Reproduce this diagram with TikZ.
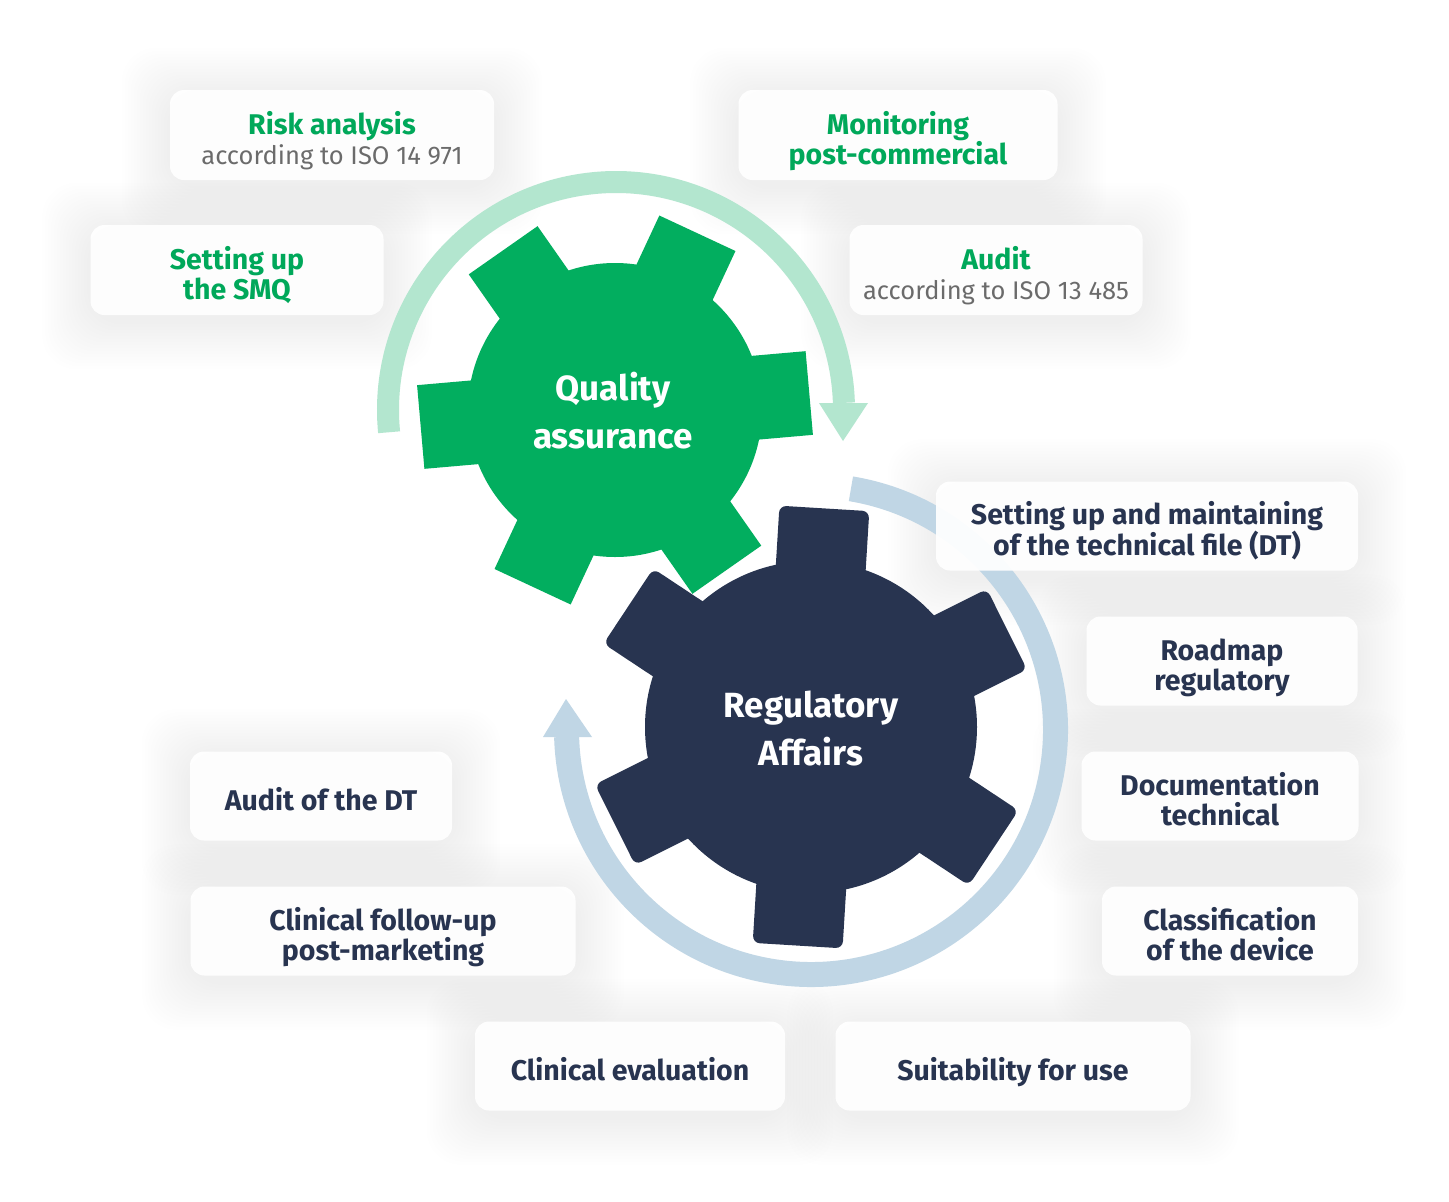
\documentclass[tikz,border=0pt]{standalone}
\usepackage{fontspec}
\setmainfont{Fira Sans}
\usetikzlibrary{calc}
\pgfdeclarelayer{shade}
\pgfdeclarelayer{mid}
\pgfsetlayers{shade,mid,main}
\definecolor{qgreen}{HTML}{02AE5F}
\definecolor{navy}{HTML}{283450}
\definecolor{mint}{HTML}{B3E6CF}
\definecolor{paleblue}{HTML}{C0D6E5}
\definecolor{txtgreen}{HTML}{00A85A}
\definecolor{txtgray}{HTML}{6B6B6B}
\tikzset{
  card/.style={fill=white, fill opacity=0.93, text opacity=1, rounded corners=14pt,
    inner sep=0pt, align=center, font=\fontsize{28.5}{30}\selectfont\bfseries},
  qacard/.style={card, text=txtgreen},
  racard/.style={card, text=navy},
  gearlabel/.style={text=white, align=center, font=\fontsize{35}{48}\selectfont\bfseries},
  arcline/.style={line width=#1, line cap=butt},
}
\newcommand{\subtxt}[1]{{\mdseries\color{txtgray}\fontsize{25.5}{31}\selectfont #1}}
\newcommand{\hs}{\rule{0pt}{36pt}}
\newcommand{\ds}{\rule[-8pt]{0pt}{0pt}}
\begin{document}
\begin{tikzpicture}[x=1pt, y=-1pt]
\useasboundingbox (0,0) rectangle (1449,1202);

% ---- cards ----
\node[qacard, minimum width=324pt, minimum height=90pt] (risk) at (332,135)
  {\hs Risk analysis\\\subtxt{according to ISO 14 971}\ds};
\node[qacard, minimum width=319pt, minimum height=90pt] (monit) at (898,135)
  {\hs Monitoring\\post-commercial\ds};
\node[qacard, minimum width=293pt, minimum height=90pt] (smq) at (237,270)
  {\hs Setting up\\the SMQ\ds};
\node[qacard, minimum width=293pt, minimum height=90pt] (audit) at (996,270)
  {\hs Audit\\\subtxt{according to ISO 13 485}\ds};
\node[racard, minimum width=422pt, minimum height=89pt] (dt) at (1147,526)
  {\hs Setting up and maintaining\\of the technical file (DT)\ds};
\node[racard, minimum width=271pt, minimum height=89pt] (road) at (1222,661)
  {\hs Roadmap\\regulatory\ds};
\node[racard, minimum width=277pt, minimum height=89pt] (doc) at (1220,796)
  {\hs Documentation\\technical\ds};
\node[racard, minimum width=256pt, minimum height=89pt] (class) at (1230,931)
  {\hs Classification\\of the device\ds};
\node[racard, minimum width=355pt, minimum height=89pt] (suit) at (1013,1066)
  {\hs Suitability for use\ds};
\node[racard, minimum width=310pt, minimum height=89pt] (clin) at (630,1066)
  {\hs Clinical evaluation\ds};
\node[racard, minimum width=385pt, minimum height=89pt] (follow) at (383,931)
  {\hs Clinical follow-up\\post-marketing\ds};
\node[racard, minimum width=262pt, minimum height=89pt] (auditdt) at (321,796)
  {\hs Audit of the DT\ds};

% ---- background and soft shadows ----
\begin{pgfonlayer}{shade}
\fill[white] (0,0) rectangle (1449,1202);
\foreach \n in {risk,monit,smq,audit,dt,road,doc,class,suit,clin,follow,auditdt} {
  \foreach \k in {3,6,...,48} {
    \fill[black, opacity=0.0035, rounded corners=34pt]
      ($(\n.south west)+(-\k,\k+6)$) rectangle ($(\n.north east)+(\k,-\k+6)$);
  }
}
\end{pgfonlayer}

% ---- gears and cycle arrows ----
\begin{pgfonlayer}{mid}
% green cycle arrow
\draw[arcline=22, mint] ($(616,410)+(-185.6:228)$) arc[start angle=-185.6, end angle=-1.8, radius=228];
\fill[mint] (819,403) -- (868,403) -- (843,441) -- cycle;
% blue cycle arrow
\draw[arcline=25, paleblue] ($(811,730)+(-80.6:244.5)$) arc[start angle=-80.6, end angle=178.4, radius=244.5];
\fill[paleblue] (543,737) -- (592,737) -- (566,699) -- cycle;
% green gear
\fill[qgreen] (615,410) circle[radius=147];
\foreach \a in {5,65,125,185,245,305}
  \fill[qgreen, rotate around={\a:(615,410)}] (615,368) rectangle (810,452);
% navy gear
\fill[navy] (811,727) circle[radius=166];
\foreach \a in {26.5,86.5,146.5,206.5,266.5,326.5}
  \fill[navy, rounded corners=7pt, rotate around={\a:(811,727)}] (811,682) rectangle (1030,772);
\end{pgfonlayer}

% ---- gear labels ----
\node[gearlabel] (qa) at (613,411) {Quality\\assurance};
\node[gearlabel] (ra) at (811,729) {Regulatory\\Affairs};
\end{tikzpicture}
\end{document}
